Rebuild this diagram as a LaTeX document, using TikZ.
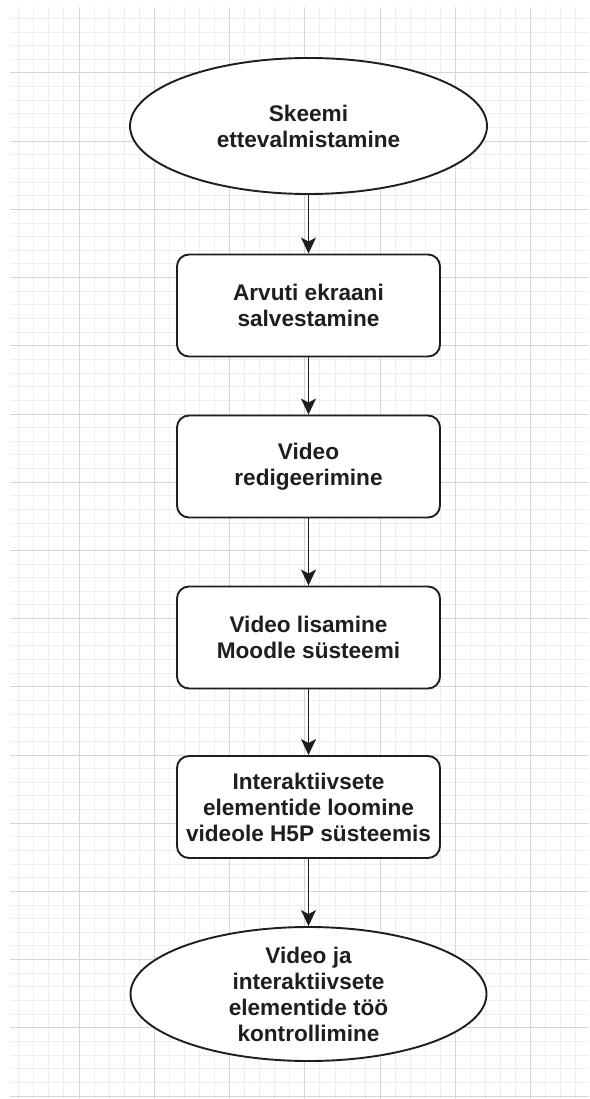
\documentclass[tikz,border=0pt]{standalone}
\usepackage{fontspec}
\setmainfont{Liberation Sans}
\usetikzlibrary{shapes.geometric,arrows.meta}
\definecolor{gminor}{HTML}{EEEEEE}
\definecolor{gmajor}{HTML}{D6D6D6}
\definecolor{ink}{HTML}{1E1E1E}
\tikzset{
  flowtxt/.style={font=\fontsize{22.6}{26}\selectfont\bfseries, text=ink, align=center, inner sep=0pt},
  oval/.style={flowtxt, ellipse, draw=ink, line width=1.9pt, fill=white, minimum width=357pt, minimum height=136pt},
  stepbox/.style={flowtxt, rectangle, rounded corners=12pt, draw=ink, line width=1.9pt, fill=white, minimum width=263pt, minimum height=102pt},
  flowarrow/.style={draw=ink, line width=1.8pt, -{Stealth[length=16pt,width=15pt,inset=4pt]}}
}
\begin{document}
\begin{tikzpicture}[x=1pt,y=-1pt]
\useasboundingbox (0,0) rectangle (589,1099);
\fill[white] (0,0) rectangle (589,1099);
% minor grid
\foreach \k in {1,...,38} {
  \draw[gminor, line width=1pt] ({3.7+15.06*\k},7) -- ({3.7+15.06*\k},1099);
}
\foreach \k in {1,...,80} {
  \draw[gminor, line width=1pt] (10,{4.8+13.64*\k}) -- (589,{4.8+13.64*\k});
}
% major grid
\foreach \k in {1,...,7} {
  \draw[gmajor, line width=1pt] ({3.7+75.3*\k},7) -- ({3.7+75.3*\k},1099);
}
\foreach \k in {1,...,16} {
  \draw[gmajor, line width=1pt] (10,{4.8+68.2*\k}) -- (589,{4.8+68.2*\k});
}
% nodes
\node[oval] (s0) at (308.5,126) {Skeemi\\ettevalmistamine};
\node[stepbox] (s1) at (308.5,305.5) {Arvuti ekraani\\salvestamine};
\node[stepbox] (s2) at (308.5,466.5) {Video\\redigeerimine};
\node[stepbox] (s3) at (308.5,637.5) {Video lisamine\\Moodle süsteemi};
\node[stepbox] (s4) at (308.5,807) {Interaktiivsete\\elementide loomine\\videole H5P süsteemis};
\node[oval, minimum width=356pt, minimum height=134pt] (s5) at (308.5,994) {Video ja\\interaktiivsete\\elementide töö\\kontrollimine};
% connectors
\draw[flowarrow] (s0) -- (s1);
\draw[flowarrow] (s1) -- (s2);
\draw[flowarrow] (s2) -- (s3);
\draw[flowarrow] (s3) -- (s4);
\draw[flowarrow] (s4) -- (s5);
\end{tikzpicture}
\end{document}
